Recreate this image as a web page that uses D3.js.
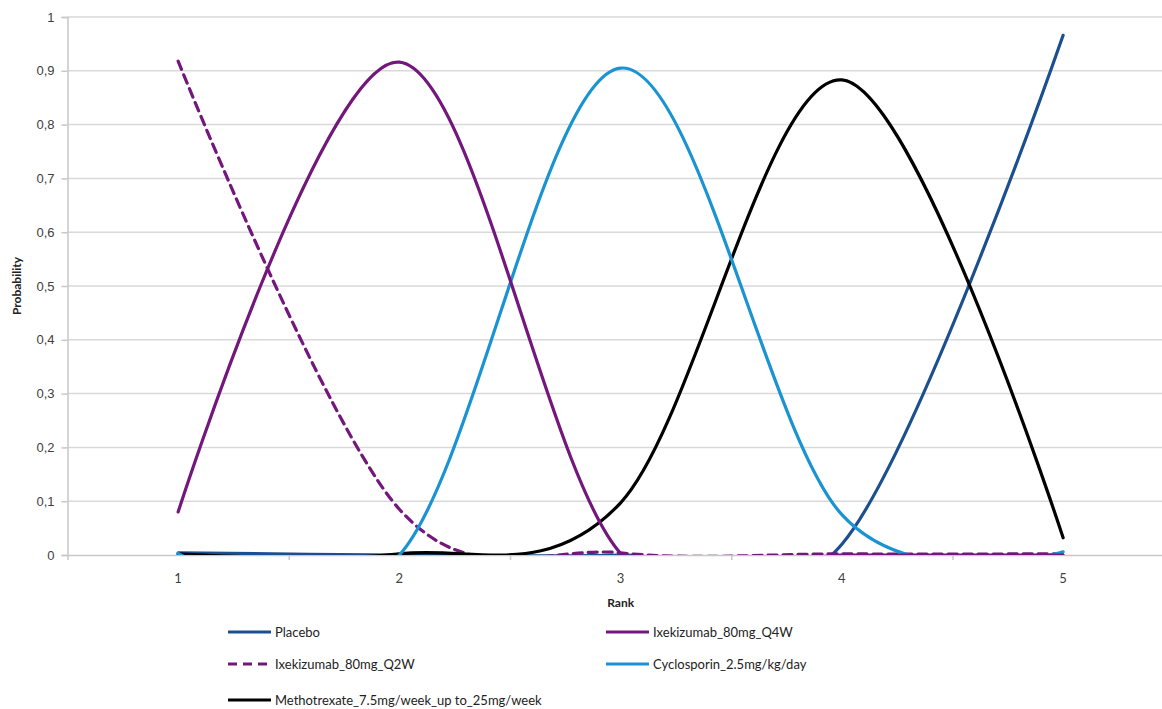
<!DOCTYPE html>
<html>
<head>
<meta charset="utf-8">
<script src="https://cdn.jsdelivr.net/npm/d3@7"></script>
<style>
  html, body { margin: 0; padding: 0; background: #fff; }
  svg { display: block; font-family: Lato, "Open Sans", sans-serif; }
</style>
</head>
<body>
<svg id="chart" width="1162" height="709"></svg>
<script>
// Rank probabilities per treatment
const ranks = [1, 2, 3, 4, 5];
const yTicks = [0, 0.1, 0.2, 0.3, 0.4, 0.5, 0.6, 0.7, 0.8, 0.9, 1];

const placebo      = [0.004, 0.000, 0.000, 0.020, 0.966];
const ixeQ4W       = [0.080, 0.916, 0.003, 0.000, 0.000];
const ixeQ2W       = [0.918, 0.085, 0.004, 0.002, 0.002];
const cyclosporin  = [0.003, 0.000, 0.905, 0.075, 0.006];
const methotrexate = [0.002, 0.002, 0.097, 0.883, 0.032];

const seriesNames  = ["Placebo", "Ixekizumab_80mg_Q4W", "Ixekizumab_80mg_Q2W",
                      "Cyclosporin_2.5mg/kg/day", "Methotrexate_7.5mg/week_up to_25mg/week"];
const seriesValues = [placebo, ixeQ4W, ixeQ2W, cyclosporin, methotrexate];
const seriesColors = ["#1b4f8f", "#74177c", "#74177c", "#1a93d3", "#000000"];
const seriesDashed = [false, false, true, false, false];

// Drawing order: Q2W and placebo underneath, others on top
const drawOrder = [0, 2, 4, 3, 1];

const svg = d3.select("#chart");
const plotLeft = 67.5, plotRight = 1173.75, plotTop = 17, plotBottom = 555;

const x = d3.scaleLinear().domain([0.5, 5.5]).range([plotLeft, plotRight]);
const y = d3.scaleLinear().domain([0, 1]).range([plotBottom, plotTop]);

const locale = d3.formatLocale({decimal: ",", thousands: ".", grouping: [3], currency: ["", ""]});
const fmt = locale.format("~g");

// Gridlines
svg.append("g")
  .selectAll("line")
  .data(yTicks.filter(d => d > 0))
  .join("line")
  .attr("x1", plotLeft).attr("x2", plotRight)
  .attr("y1", d => y(d)).attr("y2", d => y(d))
  .attr("stroke", "#d9d9d9").attr("stroke-width", 1.5);

// Y axis
const yAxis = svg.append("g")
  .attr("transform", `translate(${plotLeft},0)`)
  .call(d3.axisLeft(y).tickValues(yTicks).tickFormat(fmt).tickSize(6).tickPadding(7));
yAxis.select(".domain").attr("stroke", "#c8c8c8").attr("stroke-width", 1.5);
yAxis.selectAll(".tick line").attr("stroke", "#c8c8c8").attr("stroke-width", 1.5);
yAxis.selectAll(".tick text").attr("fill", "#404040").attr("font-size", 13);

// X axis: tick marks at category boundaries, labels at category centres
const xAxis = svg.append("g")
  .attr("transform", `translate(0,${plotBottom})`)
  .call(d3.axisBottom(x).tickValues([0.5, 1.5, 2.5, 3.5, 4.5, 5.5]).tickFormat("").tickSize(5).tickSizeOuter(0));
xAxis.select(".domain").attr("stroke", "#c8c8c8").attr("stroke-width", 1.5);
xAxis.selectAll(".tick line").attr("stroke", "#c8c8c8").attr("stroke-width", 1.5);

svg.append("g")
  .selectAll("text")
  .data(ranks)
  .join("text")
  .attr("x", d => x(d)).attr("y", plotBottom + 28)
  .attr("text-anchor", "middle")
  .attr("font-size", 13).attr("fill", "#404040")
  .text(d => d);

// Axis titles
svg.append("text")
  .attr("x", x(3)).attr("y", 607)
  .attr("text-anchor", "middle")
  .attr("font-size", 12).attr("font-weight", "bold").attr("fill", "#222")
  .text("Rank");

svg.append("text")
  .attr("transform", `translate(21,${(plotTop + plotBottom) / 2}) rotate(-90)`)
  .attr("text-anchor", "middle")
  .attr("font-size", 12).attr("font-weight", "bold").attr("fill", "#222")
  .text("Probability");

// Clip smoothed lines to the plot area
svg.append("defs").append("clipPath").attr("id", "plot-clip")
  .append("rect")
  .attr("x", plotLeft).attr("y", plotTop - 5)
  .attr("width", plotRight - plotLeft).attr("height", plotBottom - plotTop + 5);

const line = d3.line()
  .x((d, i) => x(ranks[i]))
  .y(d => y(d))
  .curve(d3.curveCatmullRom.alpha(0));

svg.append("g")
  .attr("clip-path", "url(#plot-clip)")
  .selectAll("path")
  .data(drawOrder)
  .join("path")
  .attr("d", i => line(seriesValues[i]))
  .attr("fill", "none")
  .attr("stroke", i => seriesColors[i])
  .attr("stroke-width", 3.2)
  .attr("stroke-linecap", "round")
  .attr("stroke-dasharray", i => seriesDashed[i] ? "9,6" : null);

// Legend
const legendPos = [[228, 632], [606, 632], [228, 664], [606, 664], [228, 700]];
const legend = svg.append("g")
  .selectAll("g")
  .data(seriesNames.map((n, i) => i))
  .join("g")
  .attr("transform", i => `translate(${legendPos[i][0]},${legendPos[i][1]})`);

legend.append("line")
  .attr("x1", 0).attr("x2", 43)
  .attr("y1", 0).attr("y2", 0)
  .attr("stroke", i => seriesColors[i])
  .attr("stroke-width", 3.2)
  .attr("stroke-dasharray", i => seriesDashed[i] ? "9,6" : null);

legend.append("text")
  .attr("x", 47).attr("y", 5)
  .attr("font-size", 13).attr("fill", "#222")
  .text(i => seriesNames[i]);
</script>
</body>
</html>
